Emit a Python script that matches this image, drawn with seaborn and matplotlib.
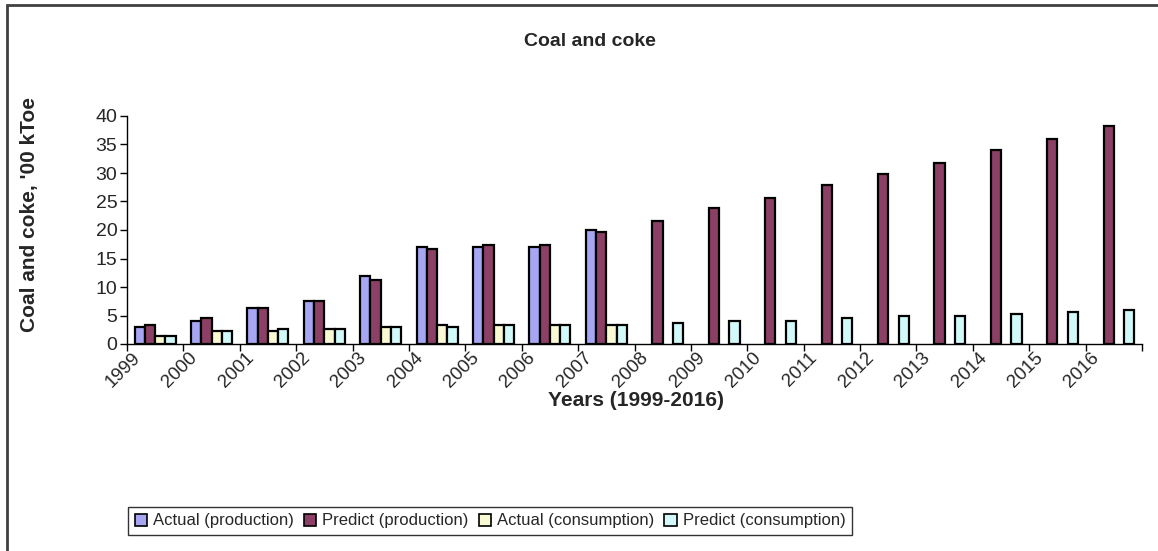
import numpy as np
import pandas as pd
import matplotlib
matplotlib.use("Agg")
import matplotlib.pyplot as plt
import matplotlib.transforms as mtransforms
from matplotlib.patches import Rectangle
import seaborn as sns

years = [str(y) for y in range(1999, 2017)]
actual_production = [3.0, 4.1, 6.4, 7.5, 12.0, 17.0, 17.0, 17.0, 20.0] + [np.nan] * 9
predict_production = [3.4, 4.5, 6.4, 7.5, 11.3, 16.6, 17.4, 17.4, 19.6,
                      21.5, 23.8, 25.7, 27.9, 29.9, 31.8, 34.0, 36.0, 38.2]
actual_consumption = [1.45, 2.3, 2.3, 2.6, 3.0, 3.4, 3.4, 3.3, 3.3] + [np.nan] * 9
predict_consumption = [1.45, 2.3, 2.6, 2.6, 3.0, 3.0, 3.4, 3.3, 3.3,
                       3.7, 4.1, 4.1, 4.5, 4.9, 4.9, 5.3, 5.7, 6.0]
series_names = ["Actual (production)", "Predict (production)",
                "Actual (consumption)", "Predict (consumption)"]
series_colors = ["#9999FF", "#993366", "#FFFFCC", "#CCFFFF"]

df = pd.DataFrame({
    "year": years * 4,
    "series": sum([[n] * len(years) for n in series_names], []),
    "value": actual_production + predict_production + actual_consumption + predict_consumption,
})

sns.set_theme(style="white")
plt.rcParams["font.family"] = ["Liberation Sans", "DejaVu Sans"]

W, H = 1158, 551
fig = plt.figure(figsize=(W / 100, H / 100), dpi=100)
ax = fig.add_axes([127 / W, 1 - 344 / H, (1142 - 127) / W, (344 - 116) / H])

sns.barplot(data=df, x="year", y="value", hue="series", hue_order=series_names,
            order=years, palette=series_colors, width=4 / 5.5, dodge=True,
            edgecolor="black", linewidth=1.6, errorbar=None, ax=ax, legend=True)

ax.set_xlim(-0.5, len(years) - 0.5)
ax.set_ylim(0, 40)
ax.set_yticks(np.arange(0, 41, 5))
ax.tick_params(axis="y", which="major", direction="out", length=5, width=1,
               color="black", labelsize=14, pad=2, left=True)
ax.set_xticks(np.arange(len(years)))
ax.set_xticks(np.arange(-0.5, len(years), 1), minor=True)
ax.tick_params(axis="x", which="major", length=0, pad=4, labelsize=13.5)
ax.tick_params(axis="x", which="minor", direction="out", length=5, width=1,
               color="black", bottom=True)
offset = mtransforms.ScaledTranslation(-11 / 100, 0, fig.dpi_scale_trans)
for lab in ax.get_xticklabels():
    lab.set_rotation(45)
    lab.set_ha("right")
    lab.set_va("top")
    lab.set_transform(lab.get_transform() + offset)

for s in ["top", "right"]:
    ax.spines[s].set_visible(False)
for s in ["left", "bottom"]:
    ax.spines[s].set_color("black")
    ax.spines[s].set_linewidth(1)
ax.set_xlabel("")
ax.set_ylabel("")
ax.grid(False)

fig.text(590 / W, 1 - 42 / H, "Coal and coke", ha="center", va="center",
         fontsize=14, fontweight="bold")
fig.text(30 / W, 1 - 215 / H, "Coal and coke, '00 kToe", ha="center", va="center",
         rotation=90, fontsize=15, fontweight="bold")
fig.text(636 / W, 1 - 401 / H, "Years (1999-2016)", ha="center", va="center",
         fontsize=15, fontweight="bold")

handles, labels = ax.get_legend_handles_labels()
ax.get_legend().remove()
leg = fig.legend(handles, labels, loc="center", bbox_to_anchor=(490 / W, 1 - 521 / H),
                 ncol=4, frameon=True, fancybox=False, fontsize=12,
                 handlelength=0.75, handleheight=0.75, handletextpad=0.35,
                 columnspacing=0.6, borderpad=0.4, edgecolor="black")
leg.get_frame().set_linewidth(1)
for p in leg.get_patches():
    p.set_edgecolor("black")
    p.set_linewidth(1.2)

fig.patches.append(Rectangle((7 / W, -0.05), 1.2, 1 - 5 / H + 0.05,
                             transform=fig.transFigure, fill=False,
                             edgecolor="#404040", linewidth=2))

fig.savefig("out.png", dpi=100)
